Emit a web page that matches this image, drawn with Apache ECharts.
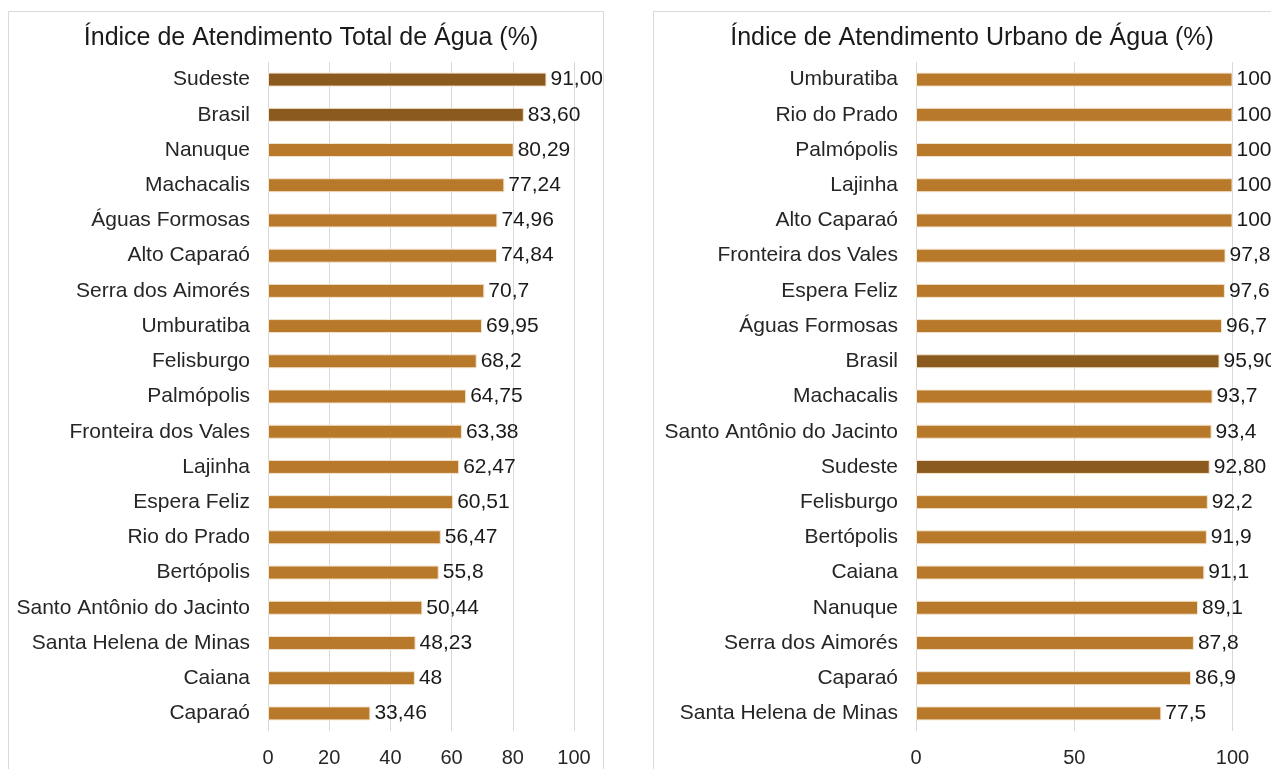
<!DOCTYPE html>
<html>
<head>
<meta charset="utf-8">
<script src="https://cdn.jsdelivr.net/npm/echarts@6/dist/echarts.min.js"></script>
<style>
  html, body { margin: 0; padding: 0; background: #fff; }
  #main { width: 1271px; height: 769px; }
</style>
</head>
<body>
<div id="main"></div>
<script>
// Índice de Atendimento Total de Água (%)
const totalCats = ['Sudeste', 'Brasil', 'Nanuque', 'Machacalis', 'Águas Formosas', 'Alto Caparaó',
  'Serra dos Aimorés', 'Umburatiba', 'Felisburgo', 'Palmópolis', 'Fronteira dos Vales', 'Lajinha',
  'Espera Feliz', 'Rio do Prado', 'Bertópolis', 'Santo Antônio do Jacinto', 'Santa Helena de Minas',
  'Caiana', 'Caparaó'];
const totalVals = [91.00, 83.60, 80.29, 77.24, 74.96, 74.84, 70.7, 69.95, 68.2, 64.75, 63.38, 62.47,
  60.51, 56.47, 55.8, 50.44, 48.23, 48, 33.46];
const totalLabels = ['91,00', '83,60', '80,29', '77,24', '74,96', '74,84', '70,7', '69,95', '68,2',
  '64,75', '63,38', '62,47', '60,51', '56,47', '55,8', '50,44', '48,23', '48', '33,46'];

// Índice de Atendimento Urbano de Água (%)
const urbCats = ['Umburatiba', 'Rio do Prado', 'Palmópolis', 'Lajinha', 'Alto Caparaó',
  'Fronteira dos Vales', 'Espera Feliz', 'Águas Formosas', 'Brasil', 'Machacalis',
  'Santo Antônio do Jacinto', 'Sudeste', 'Felisburgo', 'Bertópolis', 'Caiana', 'Nanuque',
  'Serra dos Aimorés', 'Caparaó', 'Santa Helena de Minas'];
const urbVals = [100, 100, 100, 100, 100, 97.8, 97.6, 96.7, 95.90, 93.7, 93.4, 92.80, 92.2, 91.9,
  91.1, 89.1, 87.8, 86.9, 77.5];
const urbLabels = ['100', '100', '100', '100', '100', '97,8', '97,6', '96,7', '95,90', '93,7', '93,4',
  '92,80', '92,2', '91,9', '91,1', '89,1', '87,8', '86,9', '77,5'];

const highlight = ['Sudeste', 'Brasil'];
const colBar = '#B8792A';
const colDark = '#8B5A1E';
const font = 'Liberation Sans, Arial, sans-serif';

const myChart = echarts.init(document.getElementById('main'));

function barData(cats, vals) {
  return vals.map((v, i) => ({
    value: v,
    itemStyle: { color: highlight.includes(cats[i]) ? colDark : colBar },
  }));
}

function xAx(idx, interval) {
  return {
    type: 'value',
    gridIndex: idx,
    min: 0,
    max: 100,
    interval: interval,
    axisLine: { show: false },
    axisTick: { show: false },
    splitLine: { lineStyle: { color: '#d9d9d9', width: 1 } },
    axisLabel: { color: '#262626', fontSize: 20, fontFamily: font, margin: 17 },
  };
}

function yAx(idx, cats) {
  return {
    type: 'category',
    gridIndex: idx,
    data: cats,
    inverse: true,
    axisLine: { show: false },
    axisTick: { show: false },
    axisLabel: { color: '#262626', fontSize: 21, fontFamily: font, margin: 18, padding: [2, 0, 0, 0] },
  };
}

function series(idx, cats, vals, labels) {
  return {
    type: 'bar',
    xAxisIndex: idx,
    yAxisIndex: idx,
    barWidth: 14,
    data: barData(cats, vals),
    itemStyle: { borderColor: '#f3e4cf', borderWidth: 1 },
    label: {
      show: true,
      position: 'right',
      distance: 4,
      color: '#1a1a1a',
      fontSize: 21,
      fontFamily: font,
      padding: [3, 0, 0, 0],
      formatter: p => labels[p.dataIndex],
    },
    silent: true,
  };
}

let option = {
  animation: false,
  backgroundColor: '#fff',
  graphic: [
    { type: 'rect', shape: { x: 8.5, y: 11.5, width: 595, height: 800 },
      style: { fill: 'none', stroke: '#d9d9d9', lineWidth: 1 } },
    { type: 'rect', shape: { x: 653.5, y: 11.5, width: 640, height: 800 },
      style: { fill: 'none', stroke: '#d9d9d9', lineWidth: 1 } },
  ],
  title: [
    {
      text: 'Índice de Atendimento Total de Água (%)',
      left: 306, top: 21, textAlign: 'center',
      textStyle: { fontFamily: font, fontSize: 25, fontWeight: 'normal', color: '#1a1a1a' },
    },
    {
      text: 'Índice de Atendimento Urbano de Água (%)',
      left: 967, top: 21, textAlign: 'center',
      textStyle: { fontFamily: font, fontSize: 25, fontWeight: 'normal', color: '#1a1a1a' },
    },
  ],
  grid: [
    { left: 268, top: 62, width: 306, height: 669 },
    { left: 916, top: 62, width: 316.5, height: 669 },
  ],
  xAxis: [xAx(0, 20), xAx(1, 50)],
  yAxis: [yAx(0, totalCats), yAx(1, urbCats)],
  series: [
    series(0, totalCats, totalVals, totalLabels),
    series(1, urbCats, urbVals, urbLabels),
  ],
};

myChart.setOption(option);
</script>
</body>
</html>
